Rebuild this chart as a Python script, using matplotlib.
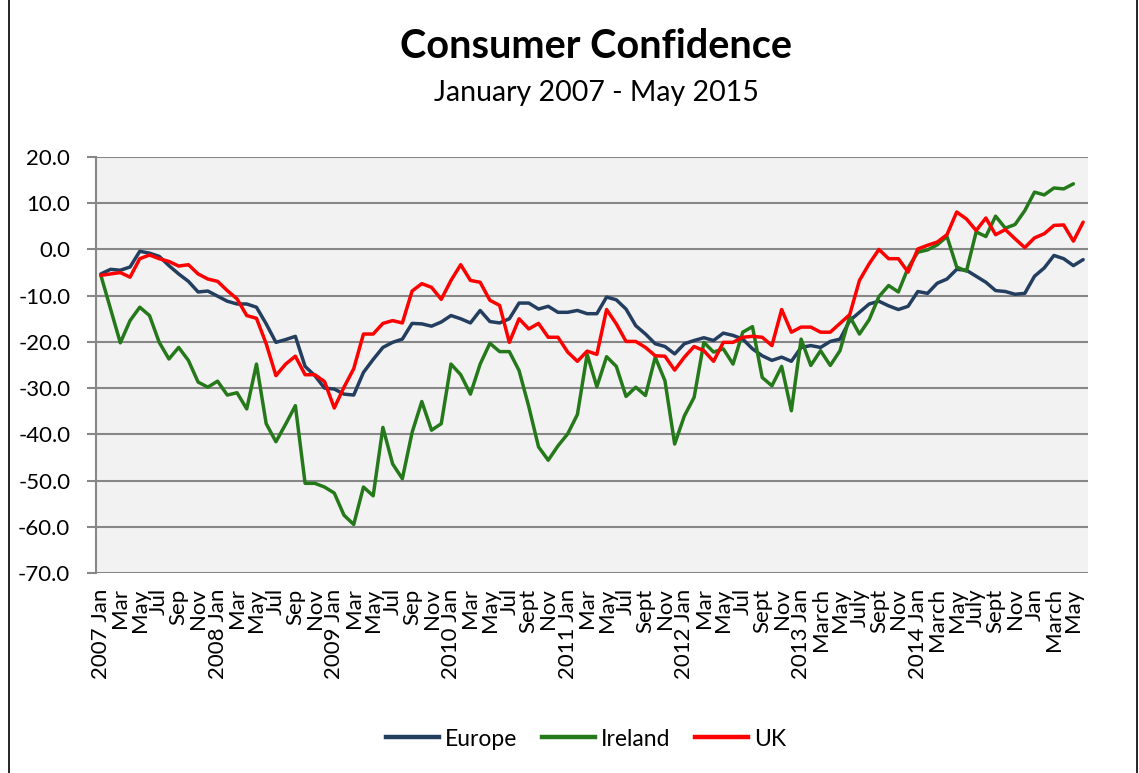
import matplotlib
matplotlib.use("Agg")
import matplotlib.pyplot as plt
from matplotlib.lines import Line2D

plt.rcParams['font.family'] = ['Lato', 'DejaVu Sans']

# ---------------- data ----------------
tick_labels = [
    "2007 Jan", "Mar", "May", "Jul", "Sep", "Nov",
    "2008 Jan", "Mar", "May", "Jul", "Sep", "Nov",
    "2009 Jan", "Mar", "May", "Jul", "Sep", "Nov",
    "2010 Jan", "Mar", "May", "Jul", "Sept", "Nov",
    "2011 Jan", "Mar", "May", "Jul", "Sept", "Nov",
    "2012 Jan", "Mar", "May", "Jul", "Sept", "Nov",
    "2013 Jan", "March", "May", "July", "Sept", "Nov",
    "2014 Jan", "March", "May", "July", "Sept", "Nov",
    "Jan", "March", "May",
]

europe = [
    -5.3, -4.3, -4.5, -3.8, -0.4, -0.8, -1.5, -3.5, -5.3, -6.9, -9.2, -9.0,
    -10.1, -11.2, -11.8, -11.8, -12.5, -16.1, -20.1, -19.5, -18.8, -25.3, -27.3, -30.0,
    -30.2, -31.3, -31.5, -26.6, -23.8, -21.2, -20.1, -19.4, -16.0, -16.1, -16.6, -15.7,
    -14.3, -15.0, -15.9, -13.2, -15.6, -15.9, -15.0, -11.6, -11.6, -12.9, -12.3, -13.6,
    -13.6, -13.2, -13.9, -13.9, -10.3, -10.9, -12.9, -16.5, -18.3, -20.4, -21.0, -22.6,
    -20.4, -19.7, -19.1, -19.7, -18.1, -18.6, -19.4, -21.5, -23.0, -24.0, -23.3, -24.2,
    -21.2, -20.8, -21.2, -19.9, -19.4, -15.4, -13.6, -11.8, -11.2, -12.2, -13.0, -12.3,
    -9.1, -9.5, -7.3, -6.4, -4.3, -4.5, -5.8, -7.1, -8.9, -9.1, -9.7, -9.5,
    -5.8, -4.0, -1.3, -2.0, -3.5, -2.2,
]

ireland = [
    -5.6, -12.9, -20.2, -15.4, -12.5, -14.3, -20.1, -23.7, -21.2, -24.0, -28.7, -29.8,
    -28.5, -31.5, -31.0, -34.5, -24.8, -37.7, -41.6, -37.8, -33.8, -50.6, -50.6, -51.4,
    -52.7, -57.5, -59.5, -51.4, -53.3, -38.5, -46.4, -49.6, -39.6, -32.9, -39.1, -37.7,
    -24.8, -27.1, -31.3, -24.8, -20.3, -22.1, -22.1, -26.2, -34.0, -42.7, -45.6, -42.5,
    -39.9, -35.7, -22.7, -29.7, -23.2, -25.3, -31.8, -29.8, -31.6, -23.3, -28.4, -42.1,
    -36.0, -32.0, -20.1, -22.2, -21.5, -24.8, -17.9, -16.7, -27.7, -29.5, -25.3, -34.9,
    -19.4, -25.1, -21.9, -25.1, -21.9, -14.5, -18.3, -15.2, -10.2, -7.8, -9.2, -4.0,
    -0.6, -0.1, 1.0, 2.8, -3.8, -4.7, 3.8, 2.8, 7.2, 4.6, 5.4, 8.4,
    12.4, 11.8, 13.3, 13.1, 14.2,
]

uk = [
    -5.6, -5.3, -5.0, -6.0, -2.0, -1.2, -2.0, -2.6, -3.6, -3.3, -5.3, -6.4,
    -6.9, -8.9, -10.7, -14.3, -14.9, -20.4, -27.3, -24.8, -23.1, -27.1, -27.1, -28.6,
    -34.3, -29.8, -25.8, -18.3, -18.3, -16.0, -15.4, -15.9, -9.0, -7.4, -8.2, -10.8,
    -6.7, -3.3, -6.7, -7.1, -11.0, -12.1, -20.1, -15.0, -17.2, -16.0, -19.0, -19.0,
    -22.2, -24.2, -22.0, -22.7, -13.0, -16.1, -19.9, -19.9, -21.2, -23.0, -23.1, -26.1,
    -23.3, -21.0, -21.9, -24.2, -20.1, -20.1, -19.0, -18.8, -19.0, -20.8, -13.0, -17.9,
    -16.8, -16.8, -17.9, -17.9, -16.0, -14.1, -6.7, -3.1, 0.0, -2.0, -2.0, -4.9,
    0.1, 0.9, 1.6, 3.2, 8.1, 6.6, 4.1, 6.8, 3.2, 4.3, 2.3, 0.4,
    2.5, 3.4, 5.2, 5.3, 1.8, 5.9,
]

series_names = ["Europe", "Ireland", "UK"]
series_colors = ["#243E60", "#25791B", "#FF0000"]

# ---------------- figure ----------------
W, H = 1139, 773
fig = plt.figure(figsize=(W / 100, H / 100), dpi=100)

left, right, top, bottom = 96, 1088, 157, 573
ax = fig.add_axes([left / W, 1 - bottom / H, (right - left) / W, (bottom - top) / H])
ax.set_facecolor("#F2F2F2")

n_cat = max(len(europe), len(ireland), len(uk))
for name, vals, col in zip(series_names, [europe, ireland, uk], series_colors):
    ax.plot(range(len(vals)), vals, color=col, lw=2.5, label=name,
            solid_joinstyle="round", solid_capstyle="round", zorder=3)

ax.set_xlim(-0.5, n_cat - 0.5)
ax.set_ylim(-70, 20)
yt = list(range(-70, 21, 10))
ax.set_yticks(yt)
ax.set_yticklabels([f"{v:.1f}" for v in yt], fontsize=16)
ax.set_xticks(range(0, 2 * len(tick_labels), 2))
ax.set_xticklabels(tick_labels, rotation=90, fontsize=16)

grid_col = "#878787"
for v in yt:
    ax.axhline(v, color=grid_col, lw=1.5, zorder=1)

for s in ["top", "right", "bottom"]:
    ax.spines[s].set_visible(False)
ax.spines["left"].set_color(grid_col)
ax.spines["left"].set_linewidth(1.5)
ax.tick_params(axis="y", length=6.5, width=1.5, color=grid_col, pad=12)
ax.tick_params(axis="x", length=0, pad=11)

# titles
fig.text(596 / W, 1 - 47 / H, "Consumer Confidence", ha="center", va="center",
         fontsize=28.5, fontweight="bold")
fig.text(596 / W, 1 - 93 / H, "January 2007 - May 2015", ha="center", va="center",
         fontsize=20.5)

# legend
handles = [Line2D([0], [0], color=c, lw=3.2) for c in series_colors]
fig.legend(handles, series_names, loc="center", bbox_to_anchor=(586 / W, 1 - 739 / H),
           ncol=3, frameon=False, fontsize=16.5, handlelength=2.3, handletextpad=0.25,
           columnspacing=1.1)

# chart border
fig.add_artist(Line2D([9 / W, 9 / W], [0, 1], color="black", lw=1.2, transform=fig.transFigure))
fig.add_artist(Line2D([1137 / W, 1137 / W], [0, 1], color="black", lw=1.2, transform=fig.transFigure))

fig.savefig("out.png", dpi=100, facecolor="white")
